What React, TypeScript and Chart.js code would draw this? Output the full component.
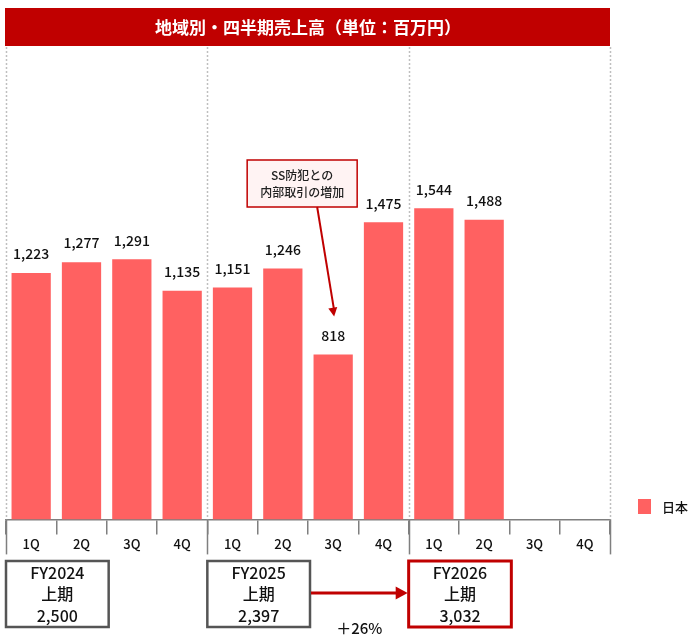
import { useEffect, useRef } from 'react';
import { Chart, registerables } from 'chart.js';

Chart.register(...registerables);

const FONT = '"Noto Sans CJK JP", "Noto Sans", sans-serif';

const title = '地域別・四半期売上高（単位：百万円）';
const seriesName = '日本';
const quarters = ['1Q', '2Q', '3Q', '4Q', '1Q', '2Q', '3Q', '4Q', '1Q', '2Q', '3Q', '4Q'];
const sales = [1223, 1277, 1291, 1135, 1151, 1246, 818, 1475, 1544, 1488, null, null];
const fiscalYears = ['FY2024', 'FY2025', 'FY2026'];
const halfTotals = [2500, 2397, 3032];
const growthLabel = '＋26%';
const calloutLines = ['SS防犯との', '内部取引の増加'];
const calloutIndex = 6;

const RED = '#C00000';
const BAR = '#FF6161';

// boundary between category i-1 and i (i = 0..n)
function boundary(chart: any, i: number) {
  const x = chart.scales.x;
  const n = quarters.length;
  if (i <= 0) return chart.chartArea.left;
  if (i >= n) return chart.chartArea.right;
  return (x.getPixelForValue(i - 1) + x.getPixelForValue(i)) / 2;
}

function arrowHead(ctx: CanvasRenderingContext2D, x: number, y: number, angle: number, len: number, half: number) {
  ctx.save();
  ctx.translate(x, y);
  ctx.rotate(angle);
  ctx.beginPath();
  ctx.moveTo(0, 0);
  ctx.lineTo(-len, -half);
  ctx.lineTo(-len, half);
  ctx.closePath();
  ctx.fill();
  ctx.restore();
}

const decor = {
  id: 'decor',
  afterDraw(chart: any) {
    const { ctx, chartArea } = chart;
    const { left, right, top, bottom } = chartArea;
    ctx.save();

    // title bar
    ctx.fillStyle = RED;
    ctx.fillRect(left - 1, 8, right - left + 1, top - 8);
    ctx.fillStyle = '#fff';
    ctx.font = `bold 17px ${FONT}`;
    ctx.textAlign = 'center';
    ctx.textBaseline = 'middle';
    ctx.fillText(title, (left + right) / 2, (8 + top) / 2 + 1);

    // year separators
    [0, 4, 8, 12].forEach((i) => {
      const bx = Math.round(boundary(chart, i)) + 0.5;
      ctx.strokeStyle = '#BFBFBF';
      ctx.lineWidth = 1.5;
      ctx.setLineDash([2, 2]);
      ctx.beginPath();
      ctx.moveTo(bx, top + 1);
      ctx.lineTo(bx, bottom);
      ctx.stroke();
      ctx.setLineDash([]);
      ctx.strokeStyle = '#7F7F7F';
      ctx.beginPath();
      ctx.moveTo(bx, bottom);
      ctx.lineTo(bx, bottom + 35);
      ctx.stroke();
    });

    // value labels
    const meta = chart.getDatasetMeta(0);
    ctx.fillStyle = '#111';
    ctx.font = `500 14px ${FONT}`;
    meta.data.forEach((bar: any, i: number) => {
      const v = sales[i];
      if (v == null) return;
      ctx.fillText(v.toLocaleString('en-US'), bar.x, bar.y - 19);
    });

    // callout
    const tb = meta.data[calloutIndex];
    const cx = tb.x - 31;
    const bw = 110;
    const by0 = 160;
    const by1 = 207;
    ctx.fillStyle = '#FFF3F3';
    ctx.fillRect(cx - bw / 2, by0, bw, by1 - by0);
    ctx.strokeStyle = RED;
    ctx.lineWidth = 1.5;
    ctx.strokeRect(cx - bw / 2, by0, bw, by1 - by0);
    ctx.fillStyle = '#222';
    ctx.font = `500 12px ${FONT}`;
    ctx.fillText(calloutLines[0], cx, 175);
    ctx.fillText(calloutLines[1], cx, 192);
    const ax0 = tb.x - 16;
    const ax1 = tb.x + 1;
    const ay1 = tb.y - 38;
    ctx.strokeStyle = RED;
    ctx.lineWidth = 2;
    ctx.beginPath();
    ctx.moveTo(ax0, by1);
    ctx.lineTo(ax1, ay1 - 6);
    ctx.stroke();
    ctx.fillStyle = RED;
    arrowHead(ctx, ax1, ay1, Math.atan2(ay1 - by1, ax1 - ax0), 9, 4.5);

    // legend
    ctx.fillStyle = BAR;
    ctx.fillRect(638, 499, 13, 15);
    ctx.fillStyle = '#111';
    ctx.textAlign = 'left';
    ctx.font = `500 13px ${FONT}`;
    ctx.fillText(seriesName, 662, 507);

    // half-year boxes
    const boxTop = 561;
    const boxH = 66;
    const boxes: number[][] = [];
    fiscalYears.forEach((fy, k) => {
      const x0 = boundary(chart, k * 4);
      const x1 = boundary(chart, k * 4 + 2) + 2;
      boxes.push([x0, x1]);
      const last = k === fiscalYears.length - 1;
      ctx.fillStyle = '#fff';
      ctx.fillRect(x0, boxTop, x1 - x0, boxH);
      ctx.strokeStyle = last ? RED : '#555';
      ctx.lineWidth = last ? 3 : 2.5;
      ctx.strokeRect(x0, boxTop, x1 - x0, boxH);
      ctx.fillStyle = '#111';
      ctx.textAlign = 'center';
      ctx.font = `500 16px ${FONT}`;
      const mx = (x0 + x1) / 2;
      ctx.fillText(fy, mx, 573);
      ctx.fillText('上期', mx, 594);
      ctx.fillText(halfTotals[k].toLocaleString('en-US'), mx, 616);
    });

    // growth arrow
    const gx0 = boxes[1][1] + 1;
    const gx1 = boxes[2][0] - 1;
    ctx.strokeStyle = RED;
    ctx.lineWidth = 3;
    ctx.beginPath();
    ctx.moveTo(gx0, 593);
    ctx.lineTo(gx1 - 10, 593);
    ctx.stroke();
    ctx.fillStyle = RED;
    arrowHead(ctx, gx1, 593, 0, 12, 6.5);
    ctx.fillStyle = '#111';
    ctx.font = `500 15px ${FONT}`;
    ctx.fillText(growthLabel, (gx0 + gx1) / 2, 628);

    ctx.restore();
  },
};

export default function App() {
  const ref = useRef<HTMLCanvasElement>(null);
  useEffect(() => {
    if (!ref.current) return;
    const chart = new Chart(ref.current, {
      type: 'bar',
      data: {
        labels: quarters,
        datasets: [
          {
            label: seriesName,
            data: sales,
            backgroundColor: BAR,
            barPercentage: 0.78,
            categoryPercentage: 1,
          },
        ],
      },
      options: {
        responsive: true,
        maintainAspectRatio: false,
        animation: false,
        layout: { padding: { top: 46, left: 6, right: 84, bottom: 83 } },
        plugins: {
          legend: { display: false },
          tooltip: { enabled: false },
          title: { display: false },
        },
        scales: {
          x: {
            grid: {
              display: true,
              drawOnChartArea: false,
              drawTicks: true,
              tickLength: 15,
              color: '#7F7F7F',
              lineWidth: 1.5,
            },
            border: { display: true, color: '#7F7F7F', width: 1.5 },
            ticks: { color: '#111', padding: 2, font: { family: FONT, size: 13, weight: '500' } },
          },
          y: { display: false, min: 0, max: 2350 },
        },
      },
      plugins: [decor],
    });
    return () => chart.destroy();
  }, []);
  return (
    <div style={{ position: 'fixed', left: 0, top: 0, width: 694, height: 637, background: '#fff' }}>
      <canvas ref={ref} />
    </div>
  );
}
